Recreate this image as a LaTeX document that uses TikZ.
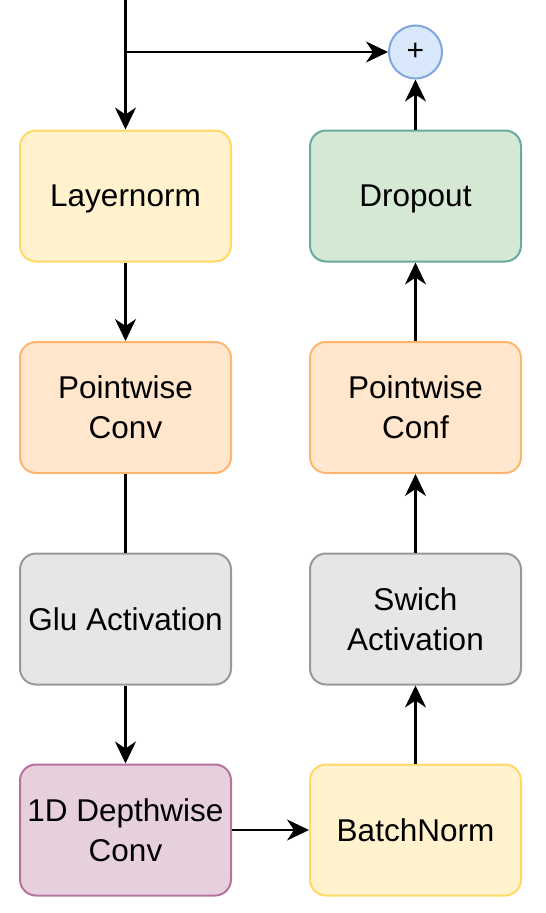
\documentclass[tikz,border=0pt]{standalone}
\usepackage{fontspec}
\setmainfont{Liberation Sans}
\usetikzlibrary{arrows.meta}
\definecolor{yfill}{HTML}{FFF2CC}\definecolor{ydraw}{HTML}{FFD966}
\definecolor{ofill}{HTML}{FFE6CC}\definecolor{odraw}{HTML}{FFB570}
\definecolor{gfill}{HTML}{D5E8D4}\definecolor{gdraw}{HTML}{67AB9F}
\definecolor{grfill}{HTML}{E6E6E6}\definecolor{grdraw}{HTML}{999999}
\definecolor{pfill}{HTML}{E6D0DE}\definecolor{pdraw}{HTML}{B5739D}
\definecolor{bfill}{HTML}{DAE8FC}\definecolor{bdraw}{HTML}{7EA6E0}
\begin{document}
\begin{tikzpicture}[x=1pt,y=-1pt,
  box/.style={rectangle, rounded corners=16pt, line width=2pt, minimum width=211pt, minimum height=131pt, align=center, inner sep=0pt, font=\fontsize{31.5}{40}\selectfont},
  oneline/.style={text depth=0pt},
  conn/.style={line width=2.2pt, -{Stealth[length=22pt,width=21pt,inset=7pt]}},
  plain/.style={line width=2.2pt}]
\useasboundingbox (0,0) rectangle (546,913);
\node[box, oneline, fill=yfill, draw=ydraw] (ln) at (125.5,196) {Layernorm};
\node[box, fill=ofill, draw=odraw] (pc) at (125.5,407.5) {Pointwise\\Conv};
\node[box, oneline, fill=grfill, draw=grdraw] (glu) at (125.5,619) {Glu Activation};
\node[box, fill=pfill, draw=pdraw] (dw) at (125.5,830) {1D Depthwise\\Conv};
\node[box, oneline, fill=yfill, draw=ydraw] (bn) at (415.5,830) {BatchNorm};
\node[box, fill=grfill, draw=grdraw] (sw) at (415.5,619) {Swich\\Activation};
\node[box, fill=ofill, draw=odraw] (pcf) at (415.5,407.5) {Pointwise\\Conf};
\node[box, oneline, fill=gfill, draw=gdraw] (do) at (415.5,196) {Dropout};
\node[circle, fill=bfill, draw=bdraw, line width=2pt, minimum size=53pt, inner sep=0pt, font=\fontsize{30}{34}\selectfont] (add) at (415.5,52) {+};
\coordinate (in) at (125.5,0);
\coordinate (br) at (125.5,52);
\draw[conn] (in) -- (ln.north);
\draw[conn] (br) -- (add.west);
\draw[conn] (ln.south) -- (pc.north);
\draw[plain] (pc.south) -- (glu.north);
\draw[conn] (glu.south) -- (dw.north);
\draw[conn] (dw.east) -- (bn.west);
\draw[conn] (bn.north) -- (sw.south);
\draw[conn] (sw.north) -- (pcf.south);
\draw[conn] (pcf.north) -- (do.south);
\draw[conn] (do.north) -- (add.south);
\end{tikzpicture}
\end{document}
